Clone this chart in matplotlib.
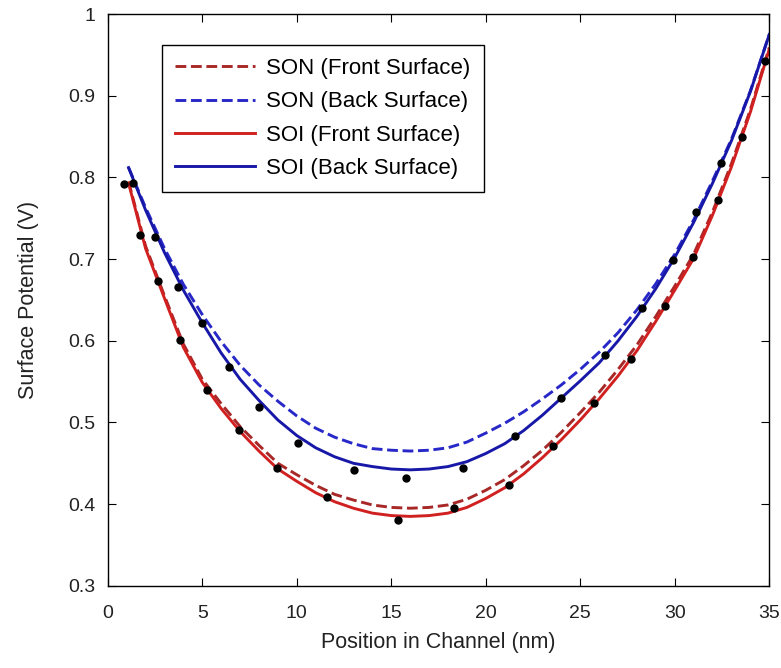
import numpy as np
import matplotlib
matplotlib.use('Agg')
import matplotlib.pyplot as plt

plt.rcParams['font.family'] = ['Liberation Sans', 'DejaVu Sans']

# position along channel (nm)
pos = [1.1, 2, 3, 4, 5, 6, 7, 8, 9, 10, 11, 12, 13, 14, 15, 16, 17, 18,
       19, 20, 21, 22, 23, 24, 25, 26, 27, 28, 29, 30, 31, 32, 33, 34, 35]

son_front = [0.795, 0.716, 0.655, 0.596, 0.553, 0.523, 0.495, 0.472, 0.450, 0.436,
             0.423, 0.412, 0.405, 0.399, 0.396, 0.395, 0.396, 0.399, 0.406, 0.417,
             0.430, 0.447, 0.466, 0.488, 0.512, 0.537, 0.565, 0.595, 0.630, 0.667,
             0.706, 0.758, 0.817, 0.883, 0.959]
son_back = [0.812, 0.763, 0.713, 0.669, 0.632, 0.599, 0.570, 0.546, 0.526, 0.508,
            0.493, 0.482, 0.474, 0.468, 0.466, 0.465, 0.466, 0.469, 0.476, 0.487,
            0.499, 0.513, 0.529, 0.546, 0.565, 0.586, 0.610, 0.638, 0.670, 0.706,
            0.748, 0.796, 0.847, 0.906, 0.975]
soi_front = [0.793, 0.713, 0.652, 0.592, 0.549, 0.517, 0.489, 0.465, 0.443, 0.428,
             0.414, 0.403, 0.395, 0.389, 0.386, 0.385, 0.386, 0.389, 0.396, 0.407,
             0.420, 0.437, 0.457, 0.479, 0.503, 0.529, 0.557, 0.588, 0.624, 0.662,
             0.701, 0.754, 0.813, 0.880, 0.957]
soi_back = [0.812, 0.760, 0.708, 0.662, 0.622, 0.585, 0.553, 0.527, 0.503, 0.484,
            0.469, 0.458, 0.450, 0.446, 0.443, 0.442, 0.443, 0.446, 0.452, 0.462,
            0.474, 0.490, 0.509, 0.530, 0.551, 0.573, 0.600, 0.630, 0.664, 0.702,
            0.745, 0.793, 0.845, 0.905, 0.975]

# simulated points
dots_x = [0.85, 1.34, 1.73, 2.52, 2.66, 3.72, 3.81, 4.96, 5.26, 6.42, 6.95, 8.01,
          8.93, 10.07, 11.6, 13.02, 15.37, 15.8, 18.32, 18.78, 21.25, 21.55, 23.54,
          23.96, 25.7, 26.31, 27.68, 28.25, 29.49, 29.93, 30.98, 31.1, 32.31, 32.43,
          33.55, 34.78]
dots_y = [0.792, 0.793, 0.730, 0.727, 0.673, 0.666, 0.601, 0.622, 0.540, 0.568,
          0.491, 0.519, 0.444, 0.475, 0.409, 0.442, 0.381, 0.432, 0.395, 0.444,
          0.424, 0.483, 0.471, 0.530, 0.524, 0.582, 0.578, 0.640, 0.643, 0.699,
          0.702, 0.758, 0.772, 0.818, 0.850, 0.942]

fig = plt.figure(figsize=(7.81, 6.68), dpi=100)
ax = fig.add_axes([0.138, 0.123, 0.847, 0.856])

ax.plot(pos, son_front, '--', color='#a82828', lw=2.1, label='SON (Front Surface)')
ax.plot(pos, son_back, '--', color='#2828c8', lw=2.1, label='SON (Back Surface)')
ax.plot(pos, soi_front, '-', color='#d02020', lw=2.1, label='SOI (Front Surface)')
ax.plot(pos, soi_back, '-', color='#1818a8', lw=2.1, label='SOI (Back Surface)')
ax.plot(dots_x, dots_y, 'o', color='black', ms=5, zorder=5)

ax.set_xlim(0, 35)
ax.set_ylim(0.3, 1)
ax.set_xticks(np.arange(0, 36, 5))
ax.set_yticks([0.3, 0.4, 0.5, 0.6, 0.7, 0.8, 0.9, 1])
ax.set_yticklabels(['0.3', '0.4', '0.5', '0.6', '0.7', '0.8', '0.9', '1'])
ax.tick_params(direction='in', top=True, right=True, labelsize=14, length=6,
               colors='black', labelcolor='#222222')
ax.tick_params(axis='x', pad=14)
ax.tick_params(axis='y', pad=9)
for s in ax.spines.values():
    s.set_linewidth(1.0)

ax.set_xlabel('Position in Channel (nm)', fontsize=15.5, color='#222222', labelpad=7)
ax.set_ylabel('Surface Potential (V)', fontsize=15.5, color='#222222', labelpad=21)

leg = ax.legend(loc='upper left', bbox_to_anchor=(0.082, 0.946), borderaxespad=0,
                fontsize=16, handlelength=3.6, handletextpad=0.5, labelspacing=0.55,
                fancybox=False, framealpha=1, edgecolor='black', borderpad=0.6)
leg.get_frame().set_linewidth(1.0)

fig.savefig('out.png', dpi=100)
